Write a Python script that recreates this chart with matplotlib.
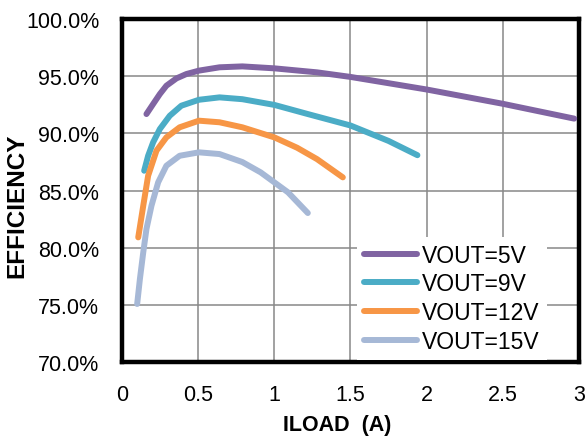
import matplotlib
matplotlib.use("Agg")
import matplotlib.pyplot as plt
from matplotlib.ticker import FuncFormatter

plt.rcParams['font.family'] = ['Liberation Sans', 'DejaVu Sans']

# Data (ILOAD in A, efficiency in %)
x_5v = [0.16, 0.204, 0.248, 0.291, 0.357, 0.422, 0.505, 0.64, 0.79, 1.0, 1.28, 1.5, 2.0, 2.5, 2.97]
y_5v = [91.7, 92.58, 93.45, 94.18, 94.82, 95.2, 95.5, 95.79, 95.87, 95.7, 95.35, 94.95, 93.85, 92.6, 91.3]

x_9v = [0.145, 0.171, 0.204, 0.248, 0.313, 0.389, 0.505, 0.64, 0.79, 1.0, 1.22, 1.5, 1.75, 1.94]
y_9v = [86.74, 88.05, 89.23, 90.39, 91.55, 92.43, 92.95, 93.16, 93.0, 92.5, 91.7, 90.7, 89.35, 88.1]

x_12v = [0.106, 0.139, 0.171, 0.226, 0.291, 0.378, 0.505, 0.64, 0.79, 1.0, 1.15, 1.28, 1.45]
y_12v = [80.91, 83.68, 86.3, 88.5, 89.66, 90.54, 91.12, 90.98, 90.54, 89.66, 88.75, 87.76, 86.16]

x_15v = [0.099, 0.117, 0.139, 0.16, 0.193, 0.237, 0.291, 0.378, 0.505, 0.64, 0.79, 0.91, 1.09, 1.22]
y_15v = [75.08, 77.27, 79.6, 81.64, 83.68, 85.73, 87.18, 88.05, 88.35, 88.2, 87.5, 86.6, 84.85, 83.04]

labels = ["VOUT=5V", "VOUT=9V", "VOUT=12V", "VOUT=15V"]
colors = ["#8064A2", "#4BACC6", "#F79646", "#A6B8D6"]
x_ticks = [0, 0.5, 1, 1.5, 2, 2.5, 3]
x_tick_labels = ["0", "0.5", "1", "1.5", "2", "2.5", "3"]
y_ticks = [70, 75, 80, 85, 90, 95, 100]

fig = plt.figure(figsize=(5.87, 4.39), dpi=100)
ax = fig.add_axes([0.208, 0.173, 0.778, 0.781])

series = [(x_5v, y_5v), (x_9v, y_9v), (x_12v, y_12v), (x_15v, y_15v)]
for (xs, ys), lab, c in zip(series, labels, colors):
    ax.plot(xs, ys, color=c, lw=4.3, solid_capstyle='round', solid_joinstyle='round', label=lab, zorder=3)

ax.set_xlim(0, 3)
ax.set_ylim(70, 100)
ax.set_xticks(x_ticks)
ax.set_xticklabels(x_tick_labels)
ax.set_yticks(y_ticks)
ax.yaxis.set_major_formatter(FuncFormatter(lambda v, p: f"{v:.1f}%"))
ax.grid(True, color="#888888", lw=1.1, zorder=1)
ax.set_axisbelow(True)
ax.tick_params(length=0, labelsize=15.5)
ax.tick_params(axis='x', pad=16)
ax.tick_params(axis='y', pad=16.5)
for s in ax.spines.values():
    s.set_linewidth(3.2)
    s.set_color('black')

ax.set_xlabel("ILOAD  (A)", fontsize=15.5, fontweight='bold')
ax.xaxis.set_label_coords(0.472, -0.151)
ax.set_ylabel("EFFICIENCY", fontsize=17.5, fontweight='bold')
ax.yaxis.set_label_coords(-0.205, 0.458)

leg = ax.legend(loc='center', bbox_to_anchor=(0.722, 0.186), fontsize=16.5,
                frameon=True, fancybox=False, framealpha=1, edgecolor='none',
                facecolor='white', handlelength=2.3, handletextpad=0.25,
                labelspacing=0.25, borderpad=0.3)
leg.set_zorder(4)

fig.savefig("out.png", dpi=100)
